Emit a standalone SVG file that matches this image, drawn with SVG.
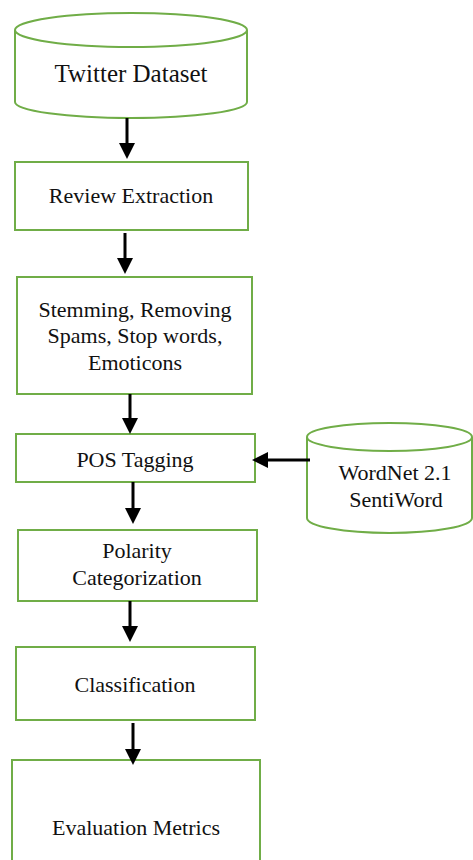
<svg xmlns="http://www.w3.org/2000/svg" width="473" height="860" viewBox="0 0 473 860">
<style>
.n{fill:#fff;stroke:#70ad47;stroke-width:2}
.t{font-family:"Liberation Serif","Times New Roman",serif;font-size:22px;fill:#111;text-anchor:middle}
.c{stroke:#000;stroke-width:3;fill:none}
</style>
<defs>
<marker id="ah" markerUnits="userSpaceOnUse" markerWidth="16" markerHeight="16" viewBox="0 0 16 16" refX="6" refY="8" orient="auto">
<path d="M0,0 L16,8 L0,16 Z" fill="#000"/>
</marker>
</defs>
<rect width="473" height="860" fill="#fff"/>
<g id="twitter">
<path class="n" d="M15,30 L15,102 A116,16 0 0 0 247,102 L247,30"/>
<ellipse class="n" cx="131" cy="30" rx="116" ry="17"/>
<text class="t" x="131" y="82" style="font-size:25px">Twitter Dataset</text>
</g>
<g id="review">
<rect class="n" x="15" y="162" width="233" height="68"/>
<text class="t" x="131" y="203">Review Extraction</text>
</g>
<g id="stemming">
<rect class="n" x="17" y="277" width="235" height="117"/>
<text class="t" x="135" y="317">Stemming, Removing</text>
<text class="t" x="135" y="343">Spams, Stop words,</text>
<text class="t" x="135" y="370">Emoticons</text>
</g>
<g id="pos">
<rect class="n" x="16" y="434" width="239" height="48"/>
<text class="t" x="135" y="467">POS Tagging</text>
</g>
<g id="wordnet">
<path class="n" d="M307,437 L307,518 A82.5,15 0 0 0 472,518 L472,437"/>
<ellipse class="n" cx="389.5" cy="437" rx="82.5" ry="14"/>
<text class="t" x="395" y="480">WordNet 2.1</text>
<text class="t" x="396" y="507">SentiWord</text>
</g>
<g id="polarity">
<rect class="n" x="18" y="530" width="239" height="71"/>
<text class="t" x="137" y="558">Polarity</text>
<text class="t" x="137" y="585">Categorization</text>
</g>
<g id="classification">
<rect class="n" x="16" y="647" width="239" height="73"/>
<text class="t" x="135" y="692">Classification</text>
</g>
<g id="evaluation">
<rect class="n" x="12" y="760" width="248" height="110"/>
<text class="t" x="136" y="835">Evaluation Metrics</text>
</g>
<g id="connectors">
<line class="c" x1="127" y1="118" x2="127" y2="149" marker-end="url(#ah)"/>
<line class="c" x1="125" y1="233" x2="125" y2="264" marker-end="url(#ah)"/>
<line class="c" x1="130" y1="394" x2="130" y2="424" marker-end="url(#ah)"/>
<line class="c" x1="133" y1="482" x2="133" y2="514" marker-end="url(#ah)"/>
<line class="c" x1="310" y1="460" x2="262" y2="460" marker-end="url(#ah)"/>
<line class="c" x1="130" y1="601" x2="130" y2="632" marker-end="url(#ah)"/>
<line class="c" x1="133" y1="723" x2="133" y2="755" marker-end="url(#ah)"/>
</g>
</svg>
